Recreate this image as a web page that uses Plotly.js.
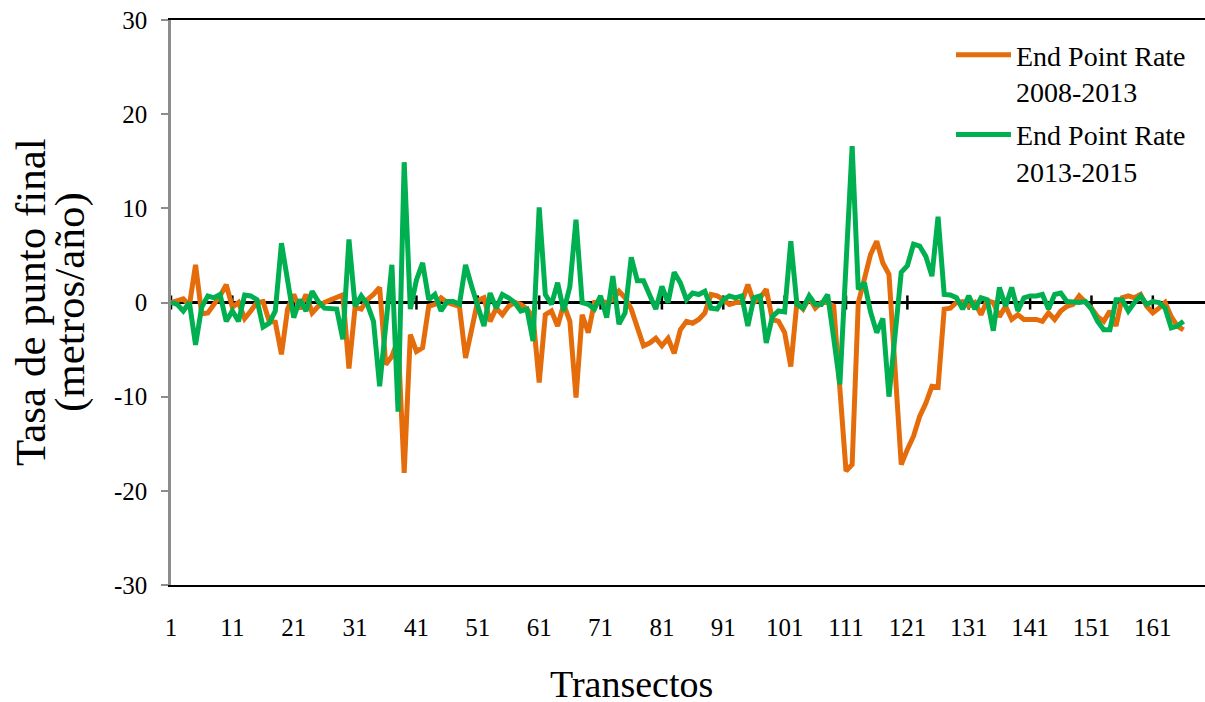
<!DOCTYPE html>
<html>
<head>
<meta charset="utf-8">
<script src="https://cdn.plot.ly/plotly-3.0.1.min.js"></script>
<style>html,body{margin:0;padding:0;background:#fff;}#chart{width:1205px;height:702px;}</style>
</head>
<body>
<div id="chart"></div>
<script>
// End Point Rate 2008-2013 (m/año), transects 1..166
const epr2008_2013 = [
  0.0, 0.2, 0.4, -0.3, 4.0, -1.2, -1.1, -0.2, 0.7, 1.9,
  -0.5, 0.0, -1.7, -0.9, 0.0, 0.1, -2.0, -2.1, -5.5, -0.7,
  0.85, -0.7, 0.85, -1.1, -0.4, 0.0, 0.3, 0.5, 0.8, -7.0,
  -0.5, -0.7, 0.3, 0.85, 1.6, -6.6, -5.7, -4.0, -18.1, -3.4,
  -5.2, -4.8, -0.4, -0.2, 0.5, 0.0, -0.2, -0.4, -5.9, -2.9,
  0.2, 0.5, -2.0, -0.6, -1.3, -0.4, 0.0, -0.2, -0.7, -1.5,
  -8.5, -1.3, -0.9, -2.5, -0.2, -2.0, -10.1, -1.3, -3.2, 0.0,
  0.1, 0.0, 0.3, 1.2, 0.5, -0.7, -2.5, -4.6, -4.3, -3.8,
  -4.6, -3.8, -5.4, -2.9, -2.0, -2.2, -1.8, -1.1, 0.85, 0.7,
  0.3, -0.2, 0.0, 0.0, 1.9, 0.0, 0.5, 1.4, -1.8, -2.0,
  -3.2, -6.8, 0.0, -0.7, 0.5, -0.6, 0.0, 0.0, -0.4, -8.5,
  -17.9, -17.2, 0.0, 2.5, 5.1, 6.5, 4.2, 3.0, -7.1, -17.2,
  -15.6, -14.2, -12.1, -10.7, -8.9, -9.0, -0.7, -0.6, 0.0, 0.1,
  -0.4, 0.0, -1.3, 0.2, 0.0, -1.5, -0.4, -1.8, -1.3, -1.8,
  -1.8, -1.8, -2.0, -1.1, -1.8, -0.9, -0.4, -0.2, 0.7, 0.1,
  -0.6, -1.5, -2.0, -0.9, -2.5, 0.5, 0.7, 0.5, 0.85, -0.4,
  -1.1, -0.6, 0.0, -1.5, -2.5, -2.9
];
// End Point Rate 2013-2015 (m/año)
const epr2013_2015 = [
  0.0, -0.2, -0.9, 0.0, -4.5, -0.5, 0.7, 0.5, 0.85, -2.0,
  -0.9, -2.0, 0.8, 0.7, 0.3, -2.6, -2.2, -0.9, 6.3, 2.3,
  -1.6, 0.3, -0.9, 1.2, 0.1, -0.6, -0.6, -0.7, -3.9, 6.7,
  -0.4, 0.7, -0.2, -2.0, -8.9, -2.4, 4.0, -11.6, 14.9, -0.7,
  2.4, 4.2, 0.3, 0.85, -0.9, 0.1, 0.1, -0.2, 4.0, 1.7,
  -0.4, -2.5, 1.0, -0.6, 0.85, 0.5, 0.0, -0.9, -0.7, -4.1,
  10.1, 0.85, -0.2, 2.1, -0.9, 1.7, 8.8, 0.0, -0.2, -0.7,
  0.7, -1.6, 2.8, -2.3, -1.1, 4.8, 2.3, 2.3, 0.8, -0.7,
  1.7, 0.0, 3.2, 2.1, 0.3, 1.0, 0.85, 1.2, -0.6, -0.7,
  0.3, 0.7, 0.5, 0.7, -2.5, 0.5, 0.7, -4.3, -1.5, -0.9,
  -1.0, 6.5, -0.2, -0.6, 0.7, -0.2, -0.2, 0.85, -3.8, -8.7,
  4.0, 16.6, 1.4, 2.1, -1.0, -3.2, -1.7, -10.0, -3.4, 3.2,
  3.9, 6.2, 6.0, 4.9, 2.8, 9.1, 0.85, 0.8, 0.5, -0.7,
  0.7, -0.7, 0.5, 0.3, -3.0, 1.6, -0.4, 1.6, -0.9, 0.5,
  0.7, 0.7, 0.85, -0.7, 0.85, 1.0, 0.1, 0.0, 0.0, 0.1,
  -0.7, -2.0, -2.9, -2.9, 0.3, 0.3, -0.9, 0.0, 0.7, -0.2,
  0.1, 0.0, -0.6, -2.7, -2.5, -2.0
];
const xTickValues = [1, 11, 21, 31, 41, 51, 61, 71, 81, 91, 101, 111, 121, 131, 141, 151, 161];
const xTickLabels = ["1", "11", "21", "31", "41", "51", "61", "71", "81", "91", "101", "111", "121", "131", "141", "151", "161"];
const yTickValues = [-30, -20, -10, 0, 10, 20, 30];
const yTickLabels = ["-30", "-20", "-10", "0", "10", "20", "30"];
const seriesNames = ["End Point Rate<br>2008-2013", "End Point Rate<br>2013-2015"];
const yTitleLines = ["Tasa de punto final", "(metros/año)"];
const xTitle = "Transectos";
const transects = epr2008_2013.map((_, i) => i + 1);

const FONT = "Liberation Serif";
const traces = [
  {x: transects, y: epr2008_2013, type: "scatter", mode: "lines", name: seriesNames[0],
   legendgroup: "g1", line: {color: "#E46C0A", width: 5}},
  {x: transects, y: epr2013_2015, type: "scatter", mode: "lines", name: seriesNames[1],
   legendgroup: "g2", line: {color: "#00B050", width: 5}}
];

const tickShapes = xTickValues.map(v => ({
  type: "line", xref: "x", yref: "y", x0: v, x1: v, y0: -0.75, y1: 0.75,
  line: {color: "black", width: 2.5}, layer: "below"
}));

const L = 171, W = 1034, T = 20, H = 565;
const px = v => (v - L) / W;
const py = v => (T + H - v) / H;

const layout = {
  width: 1205, height: 702,
  margin: {l: L, r: 0, t: T, b: 702 - T - H},
  paper_bgcolor: "white", plot_bgcolor: "white",
  font: {family: FONT, color: "black"},
  showlegend: true,
  legend: {x: px(951), y: py(30), xanchor: "left", yanchor: "top", valign: "top",
           font: {family: FONT, size: 28, color: "black"}, itemwidth: 55,
           tracegroupgap: 4, bgcolor: "rgba(0,0,0,0)"},
  xaxis: {range: [1, 169.5], tickmode: "array", tickvals: xTickValues, ticktext: xTickLabels,
          showgrid: false, zeroline: false, showline: true, linecolor: "black", linewidth: 1.5,
          mirror: true, ticks: "outside", ticklen: 19, tickcolor: "rgba(0,0,0,0)",
          tickfont: {family: FONT, size: 25, color: "black"}},
  yaxis: {range: [-30, 30], tickmode: "array", tickvals: yTickValues, ticktext: yTickLabels,
          showgrid: false,
          zeroline: true, zerolinecolor: "black", zerolinewidth: 3,
          showline: true, linecolor: "#8c8c8c", linewidth: 2.5,
          ticks: "outside", ticklen: 7, tickwidth: 2, tickcolor: "#8c8c8c",
          tickfont: {family: FONT, size: 25, color: "black"}, ticklabelstandoff: 9},
  shapes: tickShapes,
  annotations: [
    {text: xTitle, xref: "paper", yref: "paper", x: px(631), y: py(684),
     xanchor: "center", yanchor: "middle", showarrow: false,
     font: {family: FONT, size: 38, color: "black"}},
    {text: yTitleLines[0], xref: "paper", yref: "paper", x: px(30), y: py(302), textangle: -90,
     xanchor: "center", yanchor: "middle", showarrow: false,
     font: {family: FONT, size: 43, color: "black"}},
    {text: yTitleLines[1], xref: "paper", yref: "paper", x: px(70), y: py(302), textangle: -90,
     xanchor: "center", yanchor: "middle", showarrow: false,
     font: {family: FONT, size: 43, color: "black"}}
  ]
};

Plotly.newPlot("chart", traces, layout, {displayModeBar: false, responsive: false});
</script>
</body>
</html>
